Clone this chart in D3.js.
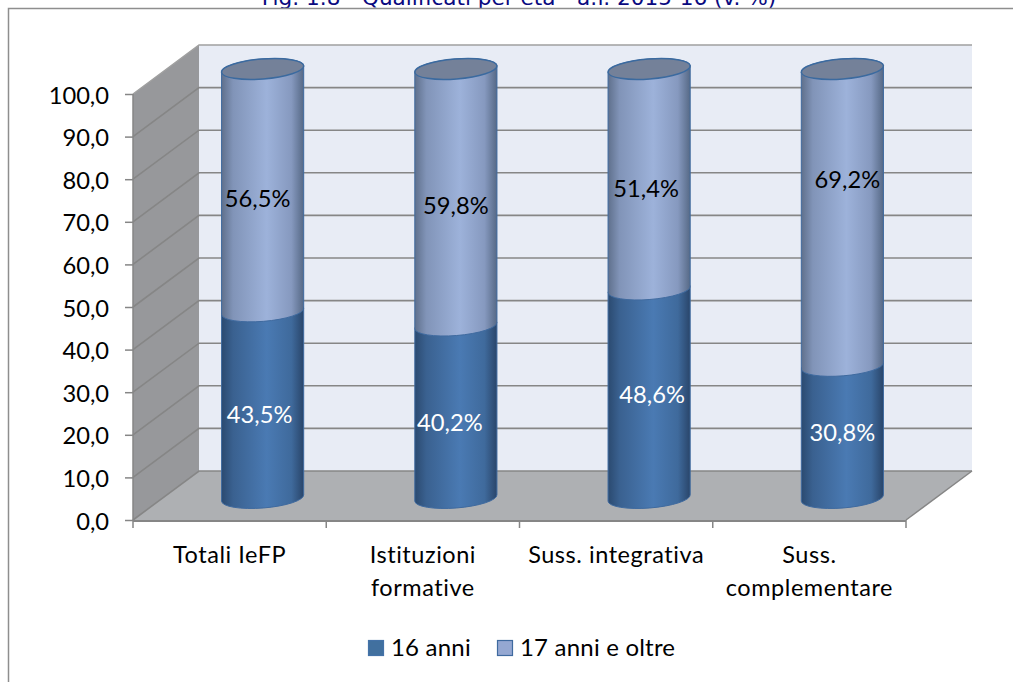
<!DOCTYPE html>
<html><head><meta charset="utf-8">
<script src="https://cdnjs.cloudflare.com/ajax/libs/d3/7.8.5/d3.min.js"></script>
<style>html,body{margin:0;padding:0;background:#fff;overflow:hidden}svg{display:block}text{font-family:Lato,"Open Sans",sans-serif}</style>
</head><body>
<script>
const categories = [["Totali IeFP"],["Istituzioni","formative"],["Suss. integrativa"],["Suss.","complementare"]];
const seriesNames = ["16 anni","17 anni e oltre"];
const values16 = [43.5,40.2,48.6,30.8];
const values17 = [56.5,59.8,51.4,69.2];
const yTicks = [0,10,20,30,40,50,60,70,80,90,100];
const titleText = "Fig. 1.8 - Qualificati per età - a.f. 2015-16 (v. %)";
// manual nudges of the data labels, as placed by hand in the original
const nudge16 = [[-3,9],[-6,10],[3,0],[0,0]];
const nudge17 = [[-5,8],[0,8],[-3,9],[5,-38]];

const W=1013,H=682, dx=66, dy=-49, grid="#868686";
const svg=d3.select("body").append("svg").attr("width",W).attr("height",H);
const defs=svg.append("defs");
function grad(id,stops){const g=defs.append("linearGradient").attr("id",id);
  stops.forEach(([o,c])=>g.append("stop").attr("offset",o).attr("stop-color",c));}
grad("gDark",[[0,"#2b4a70"],[.14,"#3a6190"],[.55,"#4a7ab3"],[.85,"#3f6a9c"],[1,"#29456a"]]);
grad("gLight",[[0,"#5f708c"],[.14,"#8194b8"],[.55,"#9db2da"],[.85,"#8699bf"],[1,"#566986"]]);

const catNames=categories.map(c=>c.join(" "));
const x=d3.scaleBand().domain(catNames).range([133,906]);
const y=d3.scaleLinear().domain([0,100]).range([520,94]);
const yCyl=d3.scaleLinear().domain([0,100]).range([498,69]);

// frame and title
svg.append("text").attr("x",519).attr("y",5).attr("text-anchor","middle").attr("fill","#0a0a80")
  .style("font-family","'DejaVu Sans'").style("font-size","21.6px").text(titleText);
svg.append("rect").attr("x",0).attr("y",9).attr("width",W).attr("height",H-9).attr("fill","#fff");
svg.append("path").attr("d",`M8.5,${H}V8.5H${W}`).attr("fill","none").attr("stroke","#8e8e8e").attr("stroke-width",1.5);

// walls
const [x0,x1]=x.range();
const poly=(pts,fill)=>svg.append("polygon").attr("points",pts.map(p=>p.join(",")).join(" ")).attr("fill",fill);
poly([[x0+dx,y(100)+dy],[x1+dx,y(100)+dy],[x1+dx,y(0)+dy],[x0+dx,y(0)+dy]],"#e8ecf5");
poly([[x0,y(100)],[x0+dx,y(100)+dy],[x0+dx,y(0)+dy],[x0,y(0)]],"#97989b");
poly([[x0,y(0)],[x0+dx,y(0)+dy],[x1+dx,y(0)+dy],[x1,y(0)]],"#aeb0b3");

// gridlines
const gl=svg.append("g").attr("fill","none").attr("stroke",grid);
yTicks.forEach(v=>{
  gl.append("path").attr("d",`M${x0},${y(v)}L${x0+dx},${y(v)+dy}L${x1+dx},${y(v)+dy}`)
    .attr("stroke-width",v===100?1.5:1.6).attr("stroke",v===100?"#a0a0a0":grid);
});
gl.append("path").attr("d",`M${x0},${y(100)}V${y(0)}`).attr("stroke-width",1.5);
gl.append("path").attr("d",`M${x1},${y(0)}L${x1+dx},${y(0)+dy}`).attr("stroke-width",1.5);

// axes
const yAxis=svg.append("g").attr("transform",`translate(${x0},0)`)
  .call(d3.axisLeft(y).tickValues(yTicks).tickSize(8).tickPadding(16).tickFormat(d=>d.toFixed(1).replace(".",",")));
yAxis.select(".domain").remove();
yAxis.selectAll("line").attr("stroke",grid).attr("stroke-width",1.5);
yAxis.selectAll("text").attr("fill","#000").attr("transform","translate(0,1.5)").style("font-family","Lato").style("font-size","23.7px");
const bx=svg.append("g").attr("stroke",grid).attr("fill","none");
bx.append("path").attr("d",`M${x0},${y(0)+1}H${x1}`).attr("stroke-width",2);
[...catNames.map(c=>x(c)),x1].forEach(v=>bx.append("path").attr("d",`M${v},${y(0)}V${y(0)+8}`).attr("stroke-width",1.5));
categories.forEach((lines,i)=>{
  lines.forEach((t,j)=>svg.append("text").attr("x",x(catNames[i])+x.bandwidth()/2).attr("y",563+j*33)
    .attr("text-anchor","middle").attr("fill","#000").style("font-size","23.5px").style("letter-spacing","0.55px").text(t));
});

// cylinders
const rx=41.2, ry=10, rot=-4.5, t=rot*Math.PI/180, ex=rx*Math.cos(t), ey=rx*Math.sin(t);
const arc=(X,Y)=>`A${rx},${ry} ${rot} 0 0 ${X},${Y}`;
const seg=(cx,yb,yt,fill)=>svg.append("path")
  .attr("d",`M${cx-ex},${yt-ey}L${cx-ex},${yb-ey}${arc(cx+ex,yb+ey)}L${cx+ex},${yt+ey}${arc(cx-ex,yt-ey)}Z`)
  .attr("fill",fill).attr("stroke","#3f6a9f").attr("stroke-width",1);
catNames.forEach((c,i)=>{
  const cx=x(c)+x.bandwidth()/2+dx/2;
  const yb=yCyl(0), ym=yCyl(values16[i]), yt=yCyl(values16[i]+values17[i]);
  seg(cx,yb,ym,"url(#gDark)");
  seg(cx,ym,yt,"url(#gLight)");
  svg.append("ellipse").attr("cx",cx).attr("cy",yt).attr("rx",rx).attr("ry",ry)
    .attr("transform",`rotate(${rot} ${cx} ${yt})`)
    .attr("fill","#748199").attr("stroke","#3b6a9f").attr("stroke-width",1.5);
  const lab=(v,n,col,yc)=>svg.append("text").attr("x",cx+n[0]).attr("y",yc+n[1]+9)
    .attr("text-anchor","middle").attr("fill",col).style("font-size","23.7px")
    .text(v.toFixed(1).replace(".",",")+"%");
  lab(values16[i],nudge16[i],"#fff",(yb+ym)/2);
  lab(values17[i],nudge17[i],"#000",(ym+yt)/2);
});

// legend
const lg=d3.scaleOrdinal().domain(seriesNames).range([368,497]);
const lf=d3.scaleOrdinal().domain(seriesNames).range(["#41709f","#95a8d2"]);
const ls=d3.scaleOrdinal().domain(seriesNames).range(["#4472a8","#3f6a9f"]);
seriesNames.forEach(s=>{
  svg.append("rect").attr("x",lg(s)+.5).attr("y",640.5).attr("width",15).attr("height",15)
    .attr("fill",lf(s)).attr("stroke",ls(s)).attr("stroke-width",1.2);
  svg.append("text").attr("x",lg(s)+23).attr("y",656).attr("fill","#000").style("font-size","24px").style("letter-spacing","0.2px").text(s);
});
</script>
</body></html>
